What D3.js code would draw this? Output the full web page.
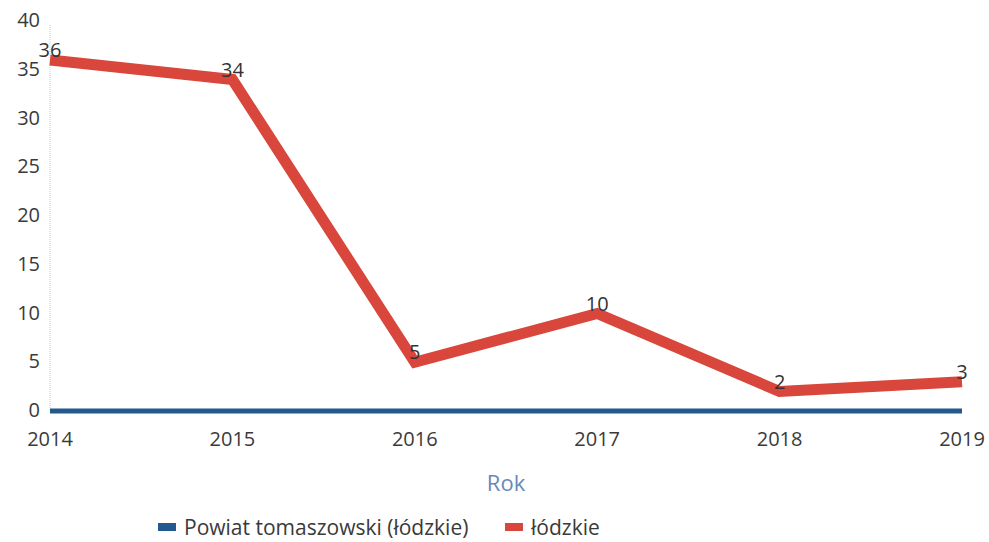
<script src="https://cdnjs.cloudflare.com/ajax/libs/d3/7.8.5/d3.min.js"></script>
<style>
  body { margin: 0; background: #fff; }
  #chart { width: 989px; height: 542px; }
</style>
<div id="chart"></div>
<script>
const years = [2014, 2015, 2016, 2017, 2018, 2019];
const powiat = [0, 0, 0, 0, 0, 0];
const lodzkie = [36, 34, 5, 10, 2, 3];
const yTicks = [0, 5, 10, 15, 20, 25, 30, 35, 40];
const seriesNames = ["Powiat tomaszowski (łódzkie)", "łódzkie"];
const colors = ["#22598f", "#d9463c"];

const width = 989, height = 542;
const svg = d3.select("#chart").append("svg")
    .attr("width", width).attr("height", height)
    .style("font-family", "Open Sans");

const x = d3.scalePoint().domain(years).range([50, 962]);
const y = d3.scaleLinear().domain([0, 40]).range([411, 21]);

// faint y axis line
svg.append("line")
    .attr("x1", 50).attr("x2", 50)
    .attr("y1", y(40) + 4).attr("y2", y(0))
    .attr("stroke", "#ccc").attr("stroke-dasharray", "1,1");

// y tick labels
svg.append("g").selectAll("text")
  .data(yTicks).enter().append("text")
    .attr("x", 40).attr("y", d => y(d) + 6)
    .attr("text-anchor", "end")
    .attr("font-size", "20px").attr("fill", "#3a3a3a")
    .text(d => d);

// x tick labels
svg.append("g").selectAll("text")
  .data(years).enter().append("text")
    .attr("x", d => x(d)).attr("y", 446)
    .attr("text-anchor", "middle")
    .attr("font-size", "20px").attr("fill", "#3a3a3a")
    .text(d => d);

svg.append("text")
    .attr("x", 506).attr("y", 491)
    .attr("text-anchor", "middle")
    .attr("font-size", "22px").attr("fill", "#6a89b8")
    .text("Rok");

const line = d3.line()
    .x((d, i) => x(years[i]))
    .y(d => y(d));

svg.append("path")
    .datum(powiat)
    .attr("d", line)
    .attr("fill", "none")
    .attr("stroke", colors[0])
    .attr("stroke-width", 5);

svg.append("path")
    .datum(lodzkie)
    .attr("d", line)
    .attr("fill", "none")
    .attr("stroke", colors[1])
    .attr("stroke-width", 11);

// value labels
svg.append("g").selectAll("text")
  .data(lodzkie).enter().append("text")
    .attr("x", (d, i) => x(years[i]))
    .attr("y", d => y(d) - 3)
    .attr("text-anchor", "middle")
    .attr("font-size", "20px").attr("fill", "#333")
    .text(d => d);

// legend
const legendX = [158, 505];
const lg = svg.append("g").selectAll("g")
  .data(seriesNames).enter().append("g")
    .attr("transform", (d, i) => `translate(${legendX[i]},528)`);
lg.append("rect")
    .attr("x", 0).attr("y", -5).attr("width", 18).attr("height", 8)
    .attr("fill", (d, i) => colors[i]);
lg.append("text")
    .attr("x", 26).attr("y", 7)
    .attr("font-size", "21px").attr("fill", "#3a3a3a")
    .text(d => d);
</script>
